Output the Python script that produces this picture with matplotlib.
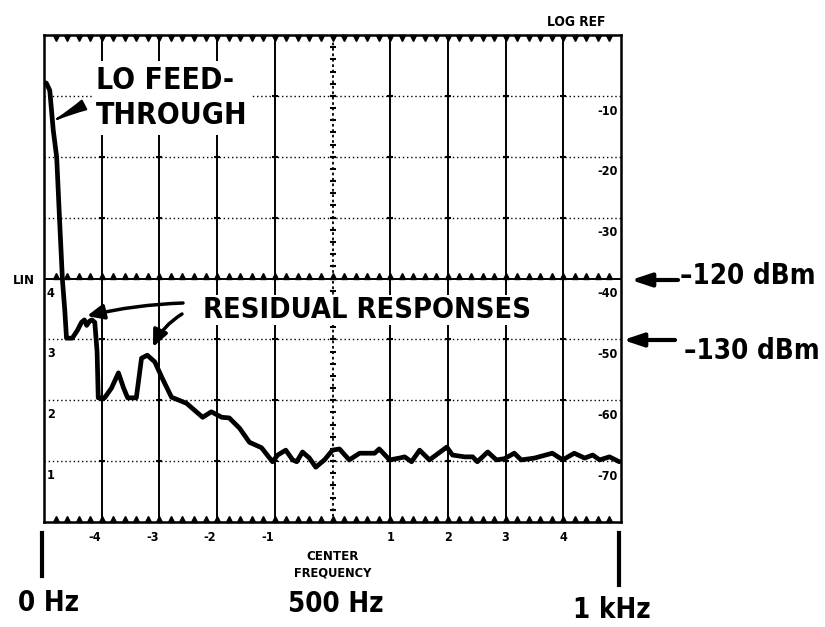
import numpy as np
import matplotlib
matplotlib.use("Agg")
import matplotlib.pyplot as plt
from matplotlib.lines import Line2D
from matplotlib import font_manager

# ---------------- data (screen divisions) ----------------
freq_div = [-5.00, -4.96, -4.90, -4.84, -4.78, -4.73, -4.68, -4.64, -4.61, -4.51,
            -4.42, -4.35, -4.30, -4.26, -4.21, -4.17, -4.12, -4.08, -4.06, -3.95,
            -3.83, -3.71, -3.62, -3.55, -3.40, -3.31, -3.21, -3.08, -2.95, -2.79,
            -2.53, -2.25, -2.10, -1.92, -1.79, -1.61, -1.44, -1.23, -1.04, -0.95,
            -0.81, -0.69, -0.62, -0.52, -0.40, -0.29, -0.14, 0.00, 0.12, 0.29,
            0.47, 0.73, 0.81, 0.99, 1.16, 1.25, 1.37, 1.51, 1.68, 1.98,
            2.08, 2.29, 2.43, 2.51, 2.69, 2.84, 2.98, 3.15, 3.27, 3.50,
            3.81, 3.99, 4.19, 4.37, 4.51, 4.63, 4.80, 4.97]
level_div = [7.22, 7.21, 7.09, 6.44, 5.99, 4.96, 3.97, 3.48, 3.02, 3.02,
             3.15, 3.28, 3.32, 3.23, 3.30, 3.32, 3.28, 2.80, 2.04, 2.04,
             2.20, 2.45, 2.20, 2.04, 2.04, 2.69, 2.74, 2.63, 2.36, 2.05,
             1.95, 1.72, 1.81, 1.72, 1.71, 1.54, 1.31, 1.22, 0.99, 1.10,
             1.18, 1.02, 0.99, 1.15, 1.05, 0.90, 1.02, 1.18, 1.20, 1.02,
             1.13, 1.13, 1.20, 1.02, 1.05, 1.07, 0.99, 1.18, 1.02, 1.23,
             1.10, 1.07, 1.07, 0.99, 1.15, 1.02, 1.04, 1.13, 1.02, 1.05,
             1.13, 1.02, 1.13, 1.05, 1.10, 1.02, 1.07, 0.99]

grid_x = [-4, -3, -2, -1, 1, 2, 3, 4]
grid_y_dotted = [1, 2, 3, 5, 6, 7]
lin_ref_level = 4
freq_tick_pos = [-4, -3, -2, -1, 1, 2, 3, 4]
freq_tick_labels = ["-4", "-3", "-2", "-1", "1", "2", "3", "4"]
log_levels = [7, 6, 5, 4, 3, 2, 1]
log_labels = ["-10", "-20", "-30", "-40", "-50", "-60", "-70"]
lin_levels = [4, 3, 2, 1]
lin_labels = ["4", "3", "2", "1"]

# ---------------- fonts ----------------
names = {f.name for f in font_manager.fontManager.ttflist}
if "Liberation Sans Narrow" in names:
    FAM = dict(family="Liberation Sans Narrow")
    BIG = 1.0
    SMALL = 1.1
else:
    FAM = dict(family="DejaVu Sans", stretch="condensed")
    BIG = 0.83
    SMALL = 1.0

W, H = 825, 627
fig = plt.figure(figsize=(W / 100, H / 100), dpi=100)
fig.patch.set_facecolor("white")
ax = fig.add_axes([44 / W, 105 / H, 577 / W, 487 / H])
ax.set_xlim(-5, 5)
ax.set_ylim(0, 8)
ax.set_xticks([])
ax.set_yticks([])
for s in ax.spines.values():
    s.set_linewidth(1.8)


def P(x, y):
    return (x / W, 1 - y / H)


# grid
for gx in grid_x:
    ax.axvline(gx, color="black", lw=1.4, zorder=1)
ax.axvline(0, color="black", lw=1.3, ls=(0, (1.5, 1.5)), zorder=1)
for gy in grid_y_dotted:
    ax.axhline(gy, color="black", lw=1.0, ls=(0, (1, 2)), zorder=1)
ax.axhline(lin_ref_level, color="black", lw=1.4, zorder=1)

minor = np.arange(-4.8, 5.0, 0.2)
ax.plot(minor, np.full_like(minor, 8 - 0.045), ls="none", marker="v", ms=4,
        color="black", zorder=2, clip_on=False)
ax.plot(minor, np.full_like(minor, 0.045), ls="none", marker="^", ms=4,
        color="black", zorder=2, clip_on=False)
ax.plot(minor, np.full_like(minor, lin_ref_level + 0.045), ls="none", marker="^",
        ms=4, color="black", zorder=2)
vminor = np.arange(0.2, 8.0, 0.2)
ax.plot(np.zeros_like(vminor), vminor, ls="none", marker="_", ms=5, mew=1.5,
        color="black", zorder=2)
for gy in grid_y_dotted:
    ax.plot(grid_x + [0], [gy] * (len(grid_x) + 1), ls="none", marker="_",
            ms=5, mew=1.5, color="black", zorder=2)

# trace
ax.plot(freq_div, level_div, color="black", lw=3.4, solid_joinstyle="round",
        solid_capstyle="round", zorder=5)

# labels inside graticule
for lv, lb in zip(log_levels, log_labels):
    ax.text(4.94, lv - 0.25, lb, ha="right", va="center", fontsize=9 * SMALL,
            fontweight="bold", zorder=4, **FAM)
for lv, lb in zip(lin_levels, lin_labels):
    ax.text(-4.88, lv - 0.24, lb, ha="center", va="center", fontsize=9 * SMALL,
            fontweight="bold", zorder=4, **FAM)
for xp, lb in zip(freq_tick_pos, freq_tick_labels):
    ax.text(xp - (0.12 if xp < 0 else 0), -0.25, lb, ha="center", va="center",
            fontsize=9 * SMALL, fontweight="bold", **FAM)

ax.text(0, -0.56, "CENTER", ha="center", va="center", fontsize=9.5 * SMALL,
        fontweight="bold", **FAM)
ax.text(0, -0.83, "FREQUENCY", ha="center", va="center", fontsize=9.2 * SMALL,
        fontweight="bold", **FAM)

fig.text(*P(24, 280), "LIN", ha="center", va="center", fontsize=9.5 * SMALL,
         fontweight="bold", **FAM)
fig.text(*P(576, 22), "LOG REF", ha="center", va="center", fontsize=9.8 * SMALL,
         fontweight="bold", **FAM)

# big annotation texts with white background
box = dict(facecolor="white", edgecolor="none", pad=3)
ax.text(*P(96, 98), "LO FEED-\nTHROUGH", transform=fig.transFigure, ha="left",
        va="center", fontsize=26 * BIG, fontweight="bold", linespacing=1.3,
        bbox=box, zorder=3, **FAM)
ax.text(*P(203, 310), "RESIDUAL RESPONSES", transform=fig.transFigure,
        ha="left", va="center", fontsize=25 * BIG, fontweight="bold",
        bbox=dict(facecolor="white", edgecolor="none", pad=1), zorder=3, **FAM)

# arrows
ax.annotate("", xy=P(57, 119), xytext=P(84, 105), xycoords=fig.transFigure,
            textcoords=fig.transFigure, annotation_clip=False, zorder=6,
            arrowprops=dict(arrowstyle="wedge,tail_width=0.7,shrink_factor=0.4",
                            color="black", lw=1.5, shrinkA=0, shrinkB=0))
ax.annotate("", xy=P(87, 316), xytext=P(183, 303), xycoords=fig.transFigure,
            textcoords=fig.transFigure, annotation_clip=False, zorder=6,
            arrowprops=dict(arrowstyle="-|>,head_width=0.45,head_length=1.0",
                            color="black", lw=2.5, shrinkA=0, shrinkB=0,
                            connectionstyle="arc3,rad=0.05"))
ax.annotate("", xy=P(153, 347), xytext=P(182, 314), xycoords=fig.transFigure,
            textcoords=fig.transFigure, annotation_clip=False, zorder=6,
            arrowprops=dict(arrowstyle="-|>,head_width=0.45,head_length=1.0",
                            color="black", lw=2.5, shrinkA=0, shrinkB=0,
                            connectionstyle="arc3,rad=0.15"))

# right side reference level markers
ax.annotate("", xy=P(631, 280), xytext=P(678, 280), xycoords=fig.transFigure,
            textcoords=fig.transFigure, annotation_clip=False,
            arrowprops=dict(arrowstyle="-|>,head_width=0.4,head_length=1.2",
                            color="black", lw=3, shrinkA=0, shrinkB=0))
ax.annotate("", xy=P(623, 340), xytext=P(675, 340), xycoords=fig.transFigure,
            textcoords=fig.transFigure, annotation_clip=False,
            arrowprops=dict(arrowstyle="-|>,head_width=0.4,head_length=1.2",
                            color="black", lw=3, shrinkA=0, shrinkB=0))
fig.text(*P(680, 276), "\u2013120 dBm", ha="left", va="center", fontsize=24 * BIG,
         fontweight="bold", **FAM)
fig.text(*P(684, 351), "\u2013130 dBm", ha="left", va="center", fontsize=24 * BIG,
         fontweight="bold", **FAM)

# bottom span markers
fig.add_artist(Line2D([42 / W, 42 / W], [1 - 533 / H, 1 - 576 / H], lw=3,
                      color="black"))
fig.add_artist(Line2D([619 / W, 619 / W], [1 - 533 / H, 1 - 585 / H], lw=3,
                      color="black"))
fig.text(*P(18, 603), "0 Hz", ha="left", va="center", fontsize=24 * BIG,
         fontweight="bold", **FAM)
fig.text(*P(336, 604), "500 Hz", ha="center", va="center", fontsize=24 * BIG,
         fontweight="bold", **FAM)
fig.text(*P(612, 610), "1 kHz", ha="center", va="center", fontsize=24 * BIG,
         fontweight="bold", **FAM)

fig.savefig("out.png", dpi=100, facecolor="white")
